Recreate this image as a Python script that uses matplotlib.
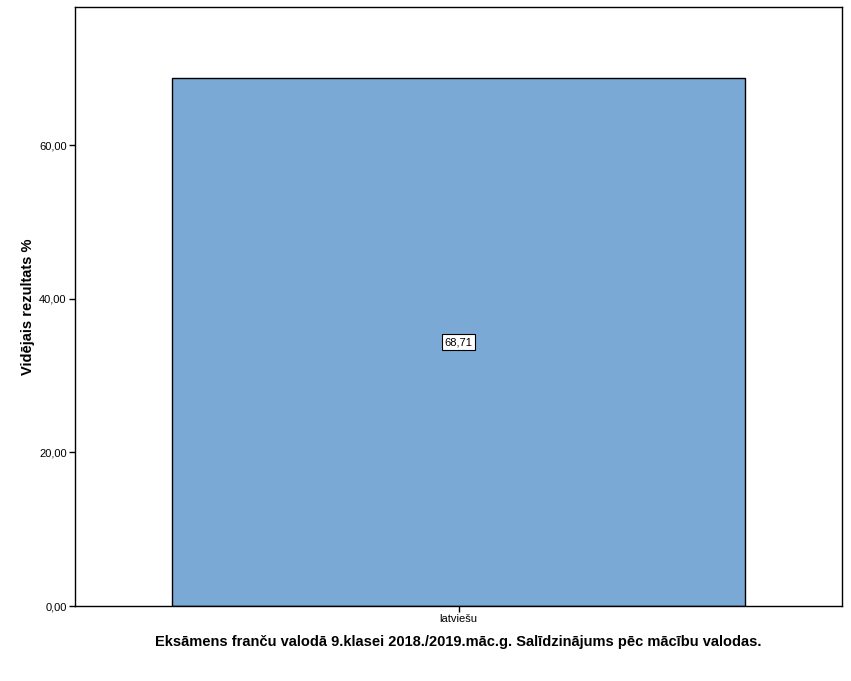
import matplotlib
matplotlib.use("Agg")
import matplotlib.pyplot as plt

categories = ["latviešu"]
values = [68.71]
yticks = [0, 20, 40, 60]
ylabel = "Vidējais rezultats %"
xlabel = "Eksāmens franču valodā 9.klasei 2018./2019.māc.g. Salīdzinājums pēc mācību valodas."

plt.rcParams['font.family'] = ['Liberation Sans', 'DejaVu Sans']

fig = plt.figure(figsize=(8.51, 6.81), dpi=100)
ax = fig.add_axes([75/851, 75/681, 767/851, 599/681])

x = list(range(len(categories)))
ax.bar(x, values, width=0.748, color="#7BA9D6", edgecolor="black", linewidth=1.0)
for xi, v in zip(x, values):
    ax.text(xi, v/2, f"{v:.2f}".replace(".", ","), ha="center", va="center", fontsize=8,
            bbox=dict(boxstyle="square,pad=0.25", fc="white", ec="black", lw=0.8))

ax.set_xlim(-0.5, 0.5)
ax.set_ylim(0, 78)
ax.set_xticks(x)
ax.set_xticklabels(categories, fontsize=8)
ax.set_yticks(yticks)
ax.set_yticklabels([f"{t:.2f}".replace(".", ",") for t in yticks], fontsize=8)
ax.tick_params(axis="both", length=4, width=1, color="black", pad=2)
for s in ax.spines.values():
    s.set_linewidth(1)
ax.set_ylabel(ylabel, fontsize=10.5, fontweight="bold", labelpad=3)
ax.set_xlabel(xlabel, fontsize=10.5, fontweight="bold", labelpad=8)

fig.savefig("out.png", dpi=100)
